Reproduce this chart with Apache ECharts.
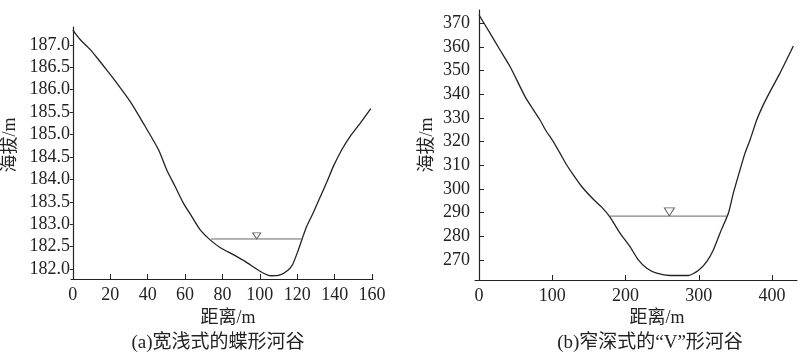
<!DOCTYPE html>
<html>
<head>
<meta charset="utf-8">
<script src="https://cdn.jsdelivr.net/npm/echarts@6/dist/echarts.min.js"></script>
<style>
  html, body { margin: 0; padding: 0; background: #fff; }
  #chart { width: 800px; height: 354px; }
</style>
</head>
<body>
<div id="chart"></div>
<script>
// (a) 宽浅式的蝶形河谷
var distA = [0, 3.9, 9.2, 12.8, 16.4, 23.5, 30.6, 37.7, 45.8, 50.2, 54.7, 59.1, 63.6, 68, 73.4, 78.7, 85.8, 92.1, 100.1, 105.5, 110.8, 115.2, 117.5, 120, 122.6, 125, 128.6, 132.2, 135.8, 139.3, 143.8, 148.3, 153.6, 159.3];
var elevA = [187.33, 187.12, 186.9, 186.72, 186.53, 186.15, 185.74, 185.25, 184.66, 184.21, 183.84, 183.47, 183.17, 182.88, 182.65, 182.48, 182.32, 182.17, 181.95, 181.85, 181.87, 181.98, 182.1, 182.36, 182.67, 182.95, 183.26, 183.6, 183.94, 184.29, 184.66, 184.96, 185.25, 185.58];
var waterA = [[73.8, 182.67], [122.7, 182.67]];
var markA = [[98.3, 182.74]];
var xTicksA = [0, 20, 40, 60, 80, 100, 120, 140, 160];
var yTicksA = [182, 182.5, 183, 183.5, 184, 184.5, 185, 185.5, 186, 186.5, 187];

// (b) 窄深式的“V”形河谷
var distB = [0, 15, 28.7, 42.3, 62.8, 71.9, 83.3, 90.5, 101.4, 110.5, 119.7, 128.7, 140.1, 156, 167.4, 178.8, 192.4, 206.1, 217.4, 228.9, 242.5, 260.7, 285.7, 299.3, 310.8, 319.8, 328.9, 340.3, 347.1, 356.2, 363, 369.9, 379, 388, 397.2, 410.8, 415.3, 429];
var elevB = [373.5, 365.8, 358.7, 351.7, 339, 334.5, 329.1, 325, 320, 315.1, 310.1, 305.9, 301, 295.6, 292.3, 288.1, 281.3, 275.6, 270, 266.5, 264.4, 263.4, 263.4, 265.5, 269.3, 274.2, 281.3, 289.7, 298.2, 308, 315.1, 320.7, 329.1, 335.5, 341.1, 348.9, 351.7, 360.4];
var waterB = [[178.8, 288.5], [338.1, 288.5]];
var markB = [[259.8, 290.3]];
var xTicksB = [0, 100, 200, 300, 400];
var yTicksB = [270, 280, 290, 300, 310, 320, 330, 340, 350, 360, 370];

var FONT = '"Liberation Serif", "Noto Sans CJK SC", serif';
var INK = '#222';

function zip(xs, ys) {
  return xs.map(function (x, i) { return [x, ys[i]]; });
}

function xAxisOf(idx, min, max, ticks) {
  return {
    type: 'value', gridIndex: idx, min: min, max: max,
    splitLine: { show: false },
    axisLine: { lineStyle: { color: INK, width: 1.2 } },
    axisTick: { show: true, inside: true, length: 5, customValues: ticks, lineStyle: { color: INK } },
    axisLabel: { customValues: ticks, color: INK, fontFamily: FONT, fontSize: 18, margin: 7 }
  };
}

function yAxisOf(idx, min, max, ticks, digits, inside) {
  return {
    type: 'value', gridIndex: idx, min: min, max: max,
    splitLine: { show: false },
    axisLine: { show: true, lineStyle: { color: INK, width: 1.2 } },
    axisTick: { show: true, inside: inside, length: inside ? 5 : 3, customValues: ticks, lineStyle: { color: INK } },
    axisLabel: {
      customValues: ticks, color: INK, fontFamily: FONT, fontSize: 18, margin: inside ? 5 : 1,
      formatter: function (v) { return v.toFixed(digits); }
    }
  };
}

function curve(idx, data) {
  return {
    type: 'line', xAxisIndex: idx, yAxisIndex: idx, data: data,
    showSymbol: false, smooth: 0.2, silent: true,
    lineStyle: { color: INK, width: 1.3 }
  };
}

function water(idx, data) {
  return {
    type: 'line', xAxisIndex: idx, yAxisIndex: idx, data: data,
    showSymbol: false, silent: true,
    lineStyle: { color: '#666', width: 1 }
  };
}

function marker(idx, data, size) {
  return {
    type: 'scatter', xAxisIndex: idx, yAxisIndex: idx, data: data,
    symbol: 'triangle', symbolRotate: 180, symbolSize: size, silent: true,
    itemStyle: { color: '#fff', borderColor: '#333', borderWidth: 1 }
  };
}

function label(text, x, y, size, rotate) {
  return {
    type: 'text', x: x, y: y, rotation: rotate ? Math.PI / 2 : 0,
    style: { text: text, fill: INK, font: size + 'px ' + FONT, align: 'center', verticalAlign: 'middle' }
  };
}

var chart = echarts.init(document.getElementById('chart'));
chart.setOption({
  animation: false,
  grid: [
    { left: 71, top: 27, width: 302, height: 252 },
    { left: 475, top: 10, width: 322, height: 270 }
  ],
  xAxis: [
    xAxisOf(0, -1, 160.5, xTicksA),
    xAxisOf(1, -5.5, 434, xTicksB)
  ],
  yAxis: [
    yAxisOf(0, 181.777, 187.4, yTicksA, 1, false),
    yAxisOf(1, 261.5, 375.6, yTicksB, 0, true)
  ],
  series: [
    curve(0, zip(distA, elevA)),
    water(0, waterA),
    marker(0, markA, [8, 6]),
    curve(1, zip(distB, elevB)),
    water(1, waterB),
    marker(1, markB, [10, 8])
  ],
  graphic: [
    label('海拔/m', 10, 145, 18, true),
    label('距离/m', 228, 318, 18),
    label('(a)宽浅式的蝶形河谷', 218, 343, 19),
    label('海拔/m', 427, 145, 18, true),
    label('距离/m', 657, 318, 18),
    label('(b)窄深式的“V”形河谷', 650, 343, 19)
  ]
});
</script>
</body>
</html>
